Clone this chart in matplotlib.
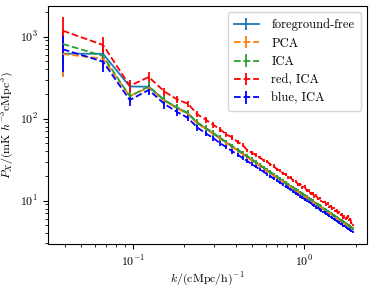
import matplotlib
matplotlib.use("Agg")
import matplotlib.pyplot as plt
import numpy as np

plt.rcParams["mathtext.fontset"] = "cm"
plt.rcParams["font.family"] = "serif"
plt.rcParams["font.serif"] = ["cmr10"]
plt.rcParams["axes.formatter.use_mathtext"] = True
plt.rcParams["font.size"] = 8.6

# k bins (cMpc/h)^-1
k = [0.039, 0.067, 0.096, 0.124, 0.153, 0.181, 0.210, 0.238, 0.267, 0.295,
     0.324, 0.352, 0.381, 0.409, 0.438, 0.466, 0.495, 0.523, 0.552, 0.580,
     0.609, 0.637, 0.666, 0.694, 0.723, 0.751, 0.780, 0.808, 0.837, 0.865,
     0.894, 0.922, 0.951, 0.979, 1.008, 1.036, 1.065, 1.093, 1.122, 1.150,
     1.179, 1.207, 1.236, 1.264, 1.293, 1.321, 1.350, 1.378, 1.407, 1.435,
     1.464, 1.492, 1.521, 1.549, 1.578, 1.606, 1.635, 1.663, 1.692, 1.720,
     1.749, 1.777, 1.806, 1.834, 1.863, 1.891, 1.920]

p_free = [621, 618, 247, 245, 168, 136, 116, 88, 76, 66,
          57, 51.5, 45, 41.5, 37, 34.5, 31, 29.2, 26.5, 25.2,
          23.0, 22.0, 20.2, 19.5, 18.0, 17.4, 16.1, 15.6, 14.6, 14.3,
          13.2, 13.0, 12.1, 12.0, 11.2, 11.0, 10.4, 10.2, 9.6, 9.45,
          8.95, 8.8, 8.4, 8.25, 7.85, 7.75, 7.4, 7.3, 6.95, 6.88,
          6.6, 6.5, 6.22, 6.16, 5.9, 5.86, 5.62, 5.56, 5.34, 5.3,
          5.1, 5.06, 4.87, 4.84, 4.66, 4.62, 4.47]

p_pca = [615, 540, 189, 240, 165, 134, 114, 87.5, 75, 65,
         57, 50.5, 45, 41, 37, 34, 31, 28.8, 26.6, 24.8,
         23.1, 21.7, 20.3, 19.2, 18.1, 17.2, 16.2, 15.5, 14.7, 14.1,
         13.4, 12.8, 12.3, 11.9, 11.3, 10.9, 10.5, 10.1, 9.7, 9.4,
         9.05, 8.75, 8.45, 8.2, 7.92, 7.7, 7.45, 7.25, 7.02, 6.84,
         6.64, 6.47, 6.29, 6.13, 5.97, 5.83, 5.68, 5.54, 5.4, 5.28,
         5.15, 5.04, 4.92, 4.82, 4.71, 4.61, 4.5]

p_ica = [815, 582, 187, 247, 167, 137, 117, 90, 77, 67,
         58.5, 52, 46.5, 42, 38.2, 34.8, 32.0, 29.5, 27.3, 25.5,
         23.8, 22.3, 20.9, 19.8, 18.6, 17.6, 16.7, 15.9, 15.1, 14.5,
         13.8, 13.2, 12.7, 12.4, 11.6, 11.2, 10.8, 10.4, 10.0, 9.65,
         9.3, 9.0, 8.7, 8.45, 8.15, 7.95, 7.68, 7.48, 7.25, 7.05,
         6.85, 6.68, 6.5, 6.33, 6.16, 6.02, 5.86, 5.72, 5.58, 5.45,
         5.32, 5.2, 5.08, 4.98, 4.86, 4.76, 4.65]

p_red = [1183, 792, 252, 322, 214, 172, 152, 113, 97, 84,
         74, 64, 59, 52, 48, 41, 38.5, 36, 33.5, 31,
         30, 27.5, 26.5, 24.0, 23.5, 21.5, 21.0, 19.2, 19.0, 17.5,
         17.3, 15.8, 15.9, 14.6, 14.8, 13.3, 13.2, 12.2, 12.3, 11.3,
         11.5, 10.5, 10.7, 9.9, 9.6, 9.7, 9.0, 9.2, 8.4, 8.6,
         8.0, 8.1, 7.5, 7.6, 7.0, 7.2, 6.7, 6.9, 6.2, 6.4,
         6.0, 6.2, 6.5, 5.8, 6.0, 5.3, 5.0]

p_blue = [702, 496, 169, 224, 151, 121, 102, 78, 66, 58,
          50, 45, 40, 36.5, 33, 30.5, 27.8, 26.0, 24.0, 22.6,
          21.0, 19.9, 18.5, 17.7, 16.6, 15.9, 14.8, 14.3, 13.5, 13.0,
          12.3, 11.9, 11.2, 10.9, 10.4, 10.1, 9.6, 9.4, 8.9, 8.7,
          8.3, 8.15, 7.8, 7.6, 7.3, 7.2, 6.9, 6.75, 6.45, 6.35,
          6.1, 6.0, 5.78, 5.7, 5.48, 5.42, 5.2, 5.15, 4.95, 4.9,
          4.72, 4.68, 4.5, 4.47, 4.33, 4.3, 4.18]

# relative 1-sigma errors
rel_err = [0.47, 0.25, 0.16, 0.14, 0.12, 0.10, 0.092, 0.085, 0.078, 0.072,
           0.068, 0.064, 0.061, 0.058, 0.056, 0.054, 0.052, 0.050, 0.049, 0.048,
           0.047, 0.046, 0.045, 0.044, 0.043, 0.042, 0.042, 0.041, 0.041, 0.040,
           0.040, 0.039, 0.039, 0.038, 0.038, 0.037, 0.037, 0.036, 0.036, 0.035,
           0.035, 0.035, 0.034, 0.034, 0.034, 0.033, 0.033, 0.033, 0.032, 0.032,
           0.032, 0.031, 0.031, 0.031, 0.031, 0.030, 0.030, 0.030, 0.030, 0.030,
           0.029, 0.029, 0.029, 0.029, 0.029, 0.028, 0.028]

series = [
    (p_free, "foreground-free", "C0", "-"),
    (p_pca, "PCA", "C1", "--"),
    (p_ica, "ICA", "C2", "--"),
    (p_red, "red, ICA", "red", "--"),
    (p_blue, "blue, ICA", "blue", "--"),
]

fig = plt.figure(figsize=(3.74, 2.87), dpi=100)
ax = fig.add_axes([0.128, 0.150, 0.853, 0.829])

err = np.array(rel_err)
for vals, lab, col, ls in series:
    v = np.array(vals)
    ax.errorbar(k, v, yerr=v * err, color=col, ls=ls, lw=1.3, label=lab)

ax.set_xscale("log")
ax.set_yscale("log")
ax.set_xlim(0.0319, 2.33)
ax.set_ylim(2.96, 2366)
ax.set_xlabel(r"$k/(\mathrm{cMpc/h})^{-1}$")
ax.set_ylabel(r"$P_X/(\mathrm{mK}\ h^{-3}\mathrm{cMpc}^3)$")
ax.xaxis.set_label_coords(0.5, -0.112)
ax.yaxis.set_label_coords(-0.100, 0.5)
ax.legend(loc="upper right", fontsize=9, borderpad=0.5, handletextpad=1.0)

fig.savefig("out.png", dpi=100)
